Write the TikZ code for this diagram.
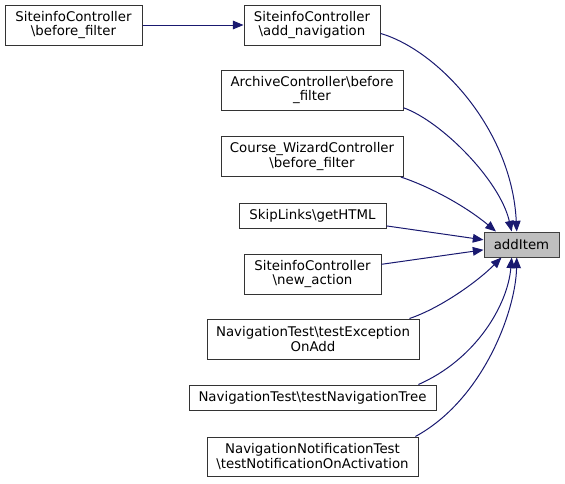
\documentclass[tikz,border=0pt]{standalone}
\usepackage{fontspec}
\setmainfont{DejaVu Sans}
\usetikzlibrary{arrows.meta, calc}
\definecolor{edgeblue}{HTML}{191970}

\begin{document}
\begin{tikzpicture}[
      x=0.75pt, y=-0.75pt,
      fn/.style={rectangle, draw=black!80, line width=0.75pt, align=center, inner sep=0pt, minimum height=30pt, font=\fontsize{10}{11}\selectfont},
      cur/.style={fn, fill=black!25, draw=black!75},
      arrow/.style={-{Triangle[length=8pt, width=6.5pt]}, draw=edgeblue, line width=0.75pt}
    ]
    \useasboundingbox (0,0) rectangle (565,483);

    \node[fn, minimum width=102.75pt] (sibf) at (73.5,25) {SiteinfoController\\\textbackslash before\_filter};
    \node[fn, minimum width=102pt] (addnav) at (312,25) {SiteinfoController\\\textbackslash add\_navigation};
    \node[fn, minimum width=136.5pt] (archive) at (312,90) {ArchiveController\textbackslash before\\\_filter};
    \node[fn, minimum width=136.5pt] (course) at (312,156.5) {Course\_WizardController\\\textbackslash before\_filter};
    \node[fn, minimum width=110.25pt, minimum height=18.75pt] (skip) at (312.5,215.5) {SkipLinks\textbackslash getHTML};
    \node[fn, minimum width=102.75pt] (newact) at (312.5,274) {SiteinfoController\\\textbackslash new\_action};
    \node[cur, minimum width=56.25pt, minimum height=18.75pt] (additem) at (521.5,244.5) {addItem};
    \node[fn, minimum width=159pt] (texc) at (313,339) {NavigationTest\textbackslash testException\\OnAdd};
    \node[fn, minimum width=185.25pt, minimum height=18.75pt] (tnav) at (312.5,397.5) {NavigationTest\textbackslash testNavigationTree};
    \node[fn, minimum width=158.25pt, minimum height=29.25pt] (tnotif) at (312.5,456.5) {NavigationNotificationTest\\\textbackslash testNotificationOnActivation};

    \draw[arrow] (sibf) -- (addnav);
    \draw[arrow] (addnav.-7) .. controls +(58,17) and +(-5,-102) .. (additem.110);
    \draw[arrow] (archive.-11) .. controls +(37,13) and +(-12,-52) .. (additem.127);
    \draw[arrow] (course.-13) .. controls +(30,10) and +(-30,-25) .. (additem.153);
    \draw[arrow] (skip.-8) -- (additem.173);
    \draw[arrow] (newact.8) -- (additem.188);
    \draw[arrow] (texc.12) .. controls +(30,-10) and +(-25,25) .. (additem.213);
    \draw[arrow] (tnav.7) .. controls +(57,-25) and +(-4,48) .. (additem.233);
    \draw[arrow] (tnotif.11) .. controls +(68,-37) and +(-1,53) .. (additem.250);
  \end{tikzpicture}
\end{document}
